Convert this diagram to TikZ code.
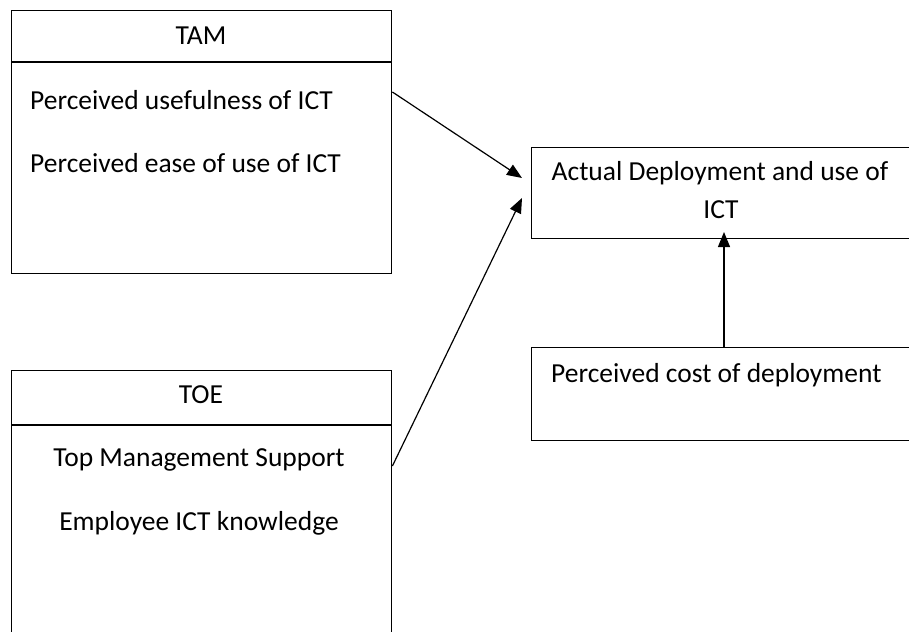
\documentclass[tikz,border=0pt]{standalone}
\usepackage{fontspec}
\setmainfont{Carlito}
\usetikzlibrary{arrows.meta,calc}
\begin{document}
\begin{tikzpicture}[x=1pt,y=-1pt,
  box/.style={draw, line width=1.4pt, inner sep=0pt},
  txt/.style={inner sep=0pt, font=\fontsize{27.5}{32}\selectfont},
  arr/.style={line width=1.2pt, -{Triangle[length=15pt,width=12pt]}}]
\useasboundingbox (0,0) rectangle (909,631);
\clip (0,0) rectangle (909,631);
% boxes
\node[box, minimum width=380pt, minimum height=263pt, anchor=north west] (tam) at (11,10) {};
\node[box, minimum width=380pt, minimum height=330pt, anchor=north west] (toe) at (11,370) {};
\node[box, minimum width=390pt, minimum height=91pt, anchor=north west] (act) at (531,147) {};
\node[box, minimum width=390pt, minimum height=93pt, anchor=north west] (cost) at (531,347) {};
% dividers
\coordinate (d1) at (0,62);
\coordinate (d2) at (0,425);
\draw[line width=1.4pt] (tam.west |- d1) -- (tam.east |- d1);
\draw[line width=1.4pt] (toe.west |- d2) -- (toe.east |- d2);
% texts
\node[txt] (tamt) at (201,36) {TAM};
\node[txt, anchor=west] (u1) at (30,100) {Perceived usefulness of ICT};
\node[txt, anchor=west] (u2) at (30,163) {Perceived ease of use of ICT};
\node[txt] (toet) at (201,395) {TOE};
\node[txt] (o1) at (199,460) {Top Management Support};
\node[txt] (o2) at (199,523) {Employee ICT knowledge};
\node[txt] (a1) at (720,173) {Actual Deployment and use of};
\node[txt] (a2) at (721,210) {ICT};
\node[txt, anchor=west] (c1) at (551,375) {Perceived cost of deployment};
% connectors
\coordinate (s1) at (391,92);
\coordinate (t1) at (522,178);
\coordinate (s2) at (391,466);
\coordinate (t2) at (522,198);
\coordinate (v) at (724,232);
\draw[arr] (tam.east |- s1) -- (t1);
\draw[arr] (toe.east |- s2) -- (t2);
\draw[arr] (v |- cost.north) -- (v);
\end{tikzpicture}
\end{document}
